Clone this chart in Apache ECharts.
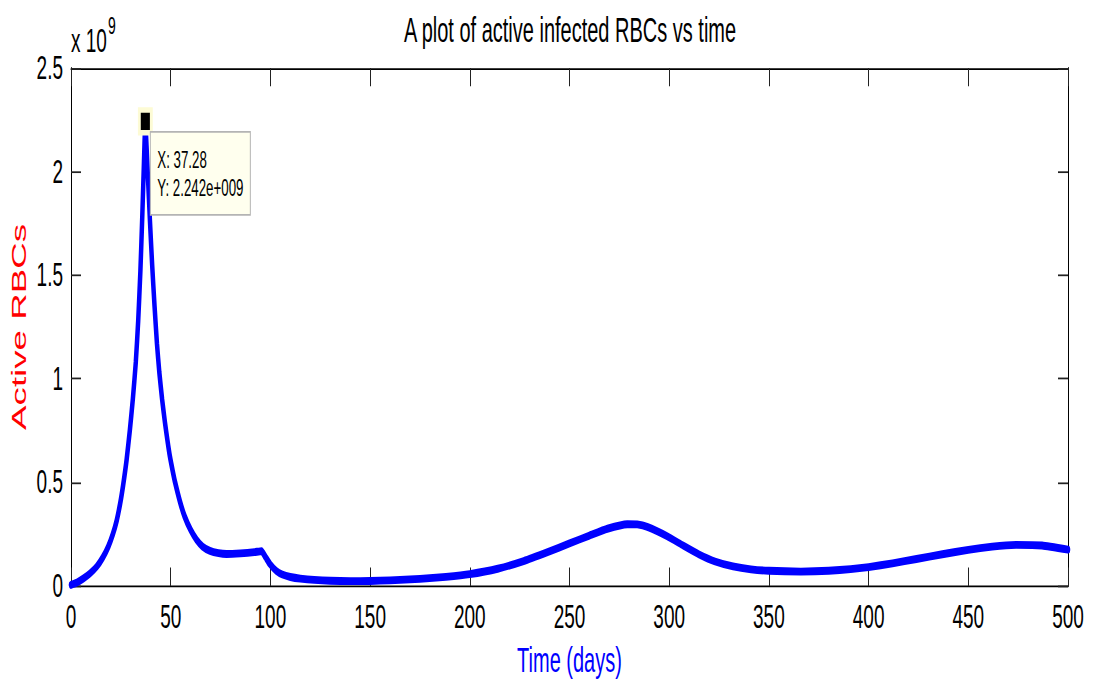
<!DOCTYPE html>
<html>
<head>
<meta charset="utf-8">
<script src="https://cdn.jsdelivr.net/npm/echarts@6/dist/echarts.min.js"></script>
<style>
html,body{margin:0;padding:0;background:#fff;width:1093px;height:680px;}
#chart{width:1093px;height:389px;transform:scaleY(1.748);transform-origin:0 0;}
</style>
</head>
<body>
<div id="chart"></div>
<script>
// Data (active infected RBCs, in units of 1e9) vs time (days)
var days = [0, 3, 6.2, 9.5, 12.9, 16, 18.7, 21, 22.9, 24.7, 26.2, 27.9, 29.5, 31, 32.5, 33.7, 34.8, 35.8, 36.6, 37.28, 37.9, 38.6, 39.6, 40.7, 41.9, 43.1, 44.3, 45.7, 47.1, 48.4, 49.6, 51, 52.2, 54.7, 57, 60, 63, 66, 69.7, 74, 78, 85, 92, 95.6, 97.5, 99.8, 103, 106, 110, 115, 122, 130, 140, 150, 160, 175, 188, 200, 214, 227, 239, 250, 260, 269, 279, 284, 289, 299, 307, 315, 323, 332, 341, 350, 366, 380, 391, 400, 412, 424, 437, 450, 462, 474, 487, 500];
var activeRBCs = [0.005, 0.017, 0.036, 0.060, 0.093, 0.138, 0.19, 0.25, 0.315, 0.40, 0.49, 0.61, 0.75, 0.90, 1.08, 1.28, 1.52, 1.80, 2.05, 2.242, 2.12, 1.97, 1.76, 1.55, 1.35, 1.17, 1.03, 0.90, 0.79, 0.70, 0.625, 0.555, 0.50, 0.405, 0.335, 0.27, 0.222, 0.19, 0.169, 0.158, 0.154, 0.157, 0.163, 0.168, 0.14, 0.105, 0.072, 0.055, 0.043, 0.035, 0.029, 0.025, 0.023, 0.024, 0.027, 0.034, 0.044, 0.057, 0.083, 0.12, 0.163, 0.205, 0.243, 0.276, 0.298, 0.297, 0.285, 0.24, 0.195, 0.152, 0.118, 0.094, 0.080, 0.073, 0.069, 0.073, 0.081, 0.091, 0.109, 0.13, 0.153, 0.174, 0.19, 0.198, 0.195, 0.175];
var xTickLabels = ['0','50','100','150','200','250','300','350','400','450','500'];
var yTickLabels = ['0','0.5','1','1.5','2','2.5'];
var dataTip = [37.28, 2.242];
var dataTipText = ['X: 37.28', 'Y: 2.242e+009'];

var FONT = "'Liberation Sans', Arial, Helvetica, sans-serif";
var seriesData = days.map(function (d, i) { return [d, activeRBCs[i]]; });

var chart = echarts.init(document.getElementById('chart'), null, {renderer: 'svg'});

var axisCommonX = {
  type: 'value', min: 0, max: 500, interval: 50,
  axisLine: {show: true, onZero: false, lineStyle: {color: '#000', width: 1}},
  axisTick: {show: true, inside: true, length: 10.5, lineStyle: {color: '#222', width: 1}},
  splitLine: {show: false}
};
var axisCommonY = {
  type: 'value', min: 0, max: 2.5, interval: 0.5,
  axisLine: {show: true, onZero: false, lineStyle: {color: '#000', width: 1}},
  axisTick: {show: true, inside: true, length: 10, lineStyle: {color: '#222', width: 1}},
  splitLine: {show: false}
};

var option = {
  animation: false,
  backgroundColor: '#fff',
  grid: {left: 71, right: 25, top: 38.9, height: 296.3, containLabel: false, outerBoundsMode: 'none'},
  xAxis: [
    Object.assign({}, axisCommonX, {
      position: 'bottom',
      axisLabel: {show: true, color: '#000', fontFamily: FONT, fontSize: 19, margin: 8,
        formatter: function (v) { return xTickLabels[Math.round(v / 50)]; }},
      name: 'Time (days)', nameLocation: 'middle', nameGap: 32,
      nameTextStyle: {color: '#0000ff', fontFamily: FONT, fontSize: 20}
    }),
    Object.assign({}, axisCommonX, {position: 'top', axisLabel: {show: false}})
  ],
  yAxis: [
    Object.assign({}, axisCommonY, {
      position: 'left',
      axisLabel: {show: true, color: '#000', fontFamily: FONT, fontSize: 19, margin: 8,
        formatter: function (v) { return yTickLabels[Math.round(v / 0.5)]; }},
      name: 'Active RBCs', nameLocation: 'middle', nameGap: 42, nameRotate: 90,
      nameMoveOverlap: false,
      nameTextStyle: {color: '#ff0000', fontFamily: FONT, fontSize: 21}
    }),
    Object.assign({}, axisCommonY, {position: 'right', axisLabel: {show: false}})
  ],
  series: [{
    type: 'line',
    data: seriesData,
    showSymbol: false,
    smooth: 0.15,
    lineStyle: {color: '#0000ff', width: 4.5, join: 'round', cap: 'round'},
    itemStyle: {color: '#0000ff'},
    markPoint: {
      symbol: 'rect', symbolSize: [12, 13],
      itemStyle: {color: '#000', borderColor: '#fdfbd5', borderWidth: 3},
      label: {show: false},
      data: [{coord: dataTip}]
    },
    z: 3
  }],
  graphic: [
    {type: 'text', x: 570, y: 16.8, style: {text: 'A plot of active infected RBCs vs time', fontFamily: FONT, fontSize: 20, fill: '#000', align: 'center', verticalAlign: 'middle'}},
    {type: 'text', x: 71, y: 23.4, style: {text: 'x 10', fontFamily: FONT, fontSize: 19, fill: '#000', align: 'left', verticalAlign: 'middle'}},
    {type: 'text', x: 108, y: 14.3, style: {text: '9', fontFamily: FONT, fontSize: 14, fill: '#000', align: 'left', verticalAlign: 'middle'}}
  ]
};
chart.setOption(option);

var pt = chart.convertToPixel({xAxisIndex: 0, yAxisIndex: 0}, dataTip);
chart.setOption({
  graphic: option.graphic.concat([
    {type: 'rect', x: pt[0] + 5, y: pt[1] + 6, z: 10,
      shape: {width: 100, height: 47.5},
      style: {fill: '#ffffee', stroke: '#b4b4b4', lineWidth: 1}},
    {type: 'text', x: pt[0] + 12, y: pt[1] + 22, z: 11,
      style: {text: dataTipText[0], fontFamily: FONT, fontSize: 13.3, fill: '#000', align: 'left', verticalAlign: 'middle'}},
    {type: 'text', x: pt[0] + 12, y: pt[1] + 38, z: 11,
      style: {text: dataTipText[1], fontFamily: FONT, fontSize: 13.3, fill: '#000', align: 'left', verticalAlign: 'middle'}}
  ])
}, {replaceMerge: ['graphic']});
</script>
</body>
</html>
